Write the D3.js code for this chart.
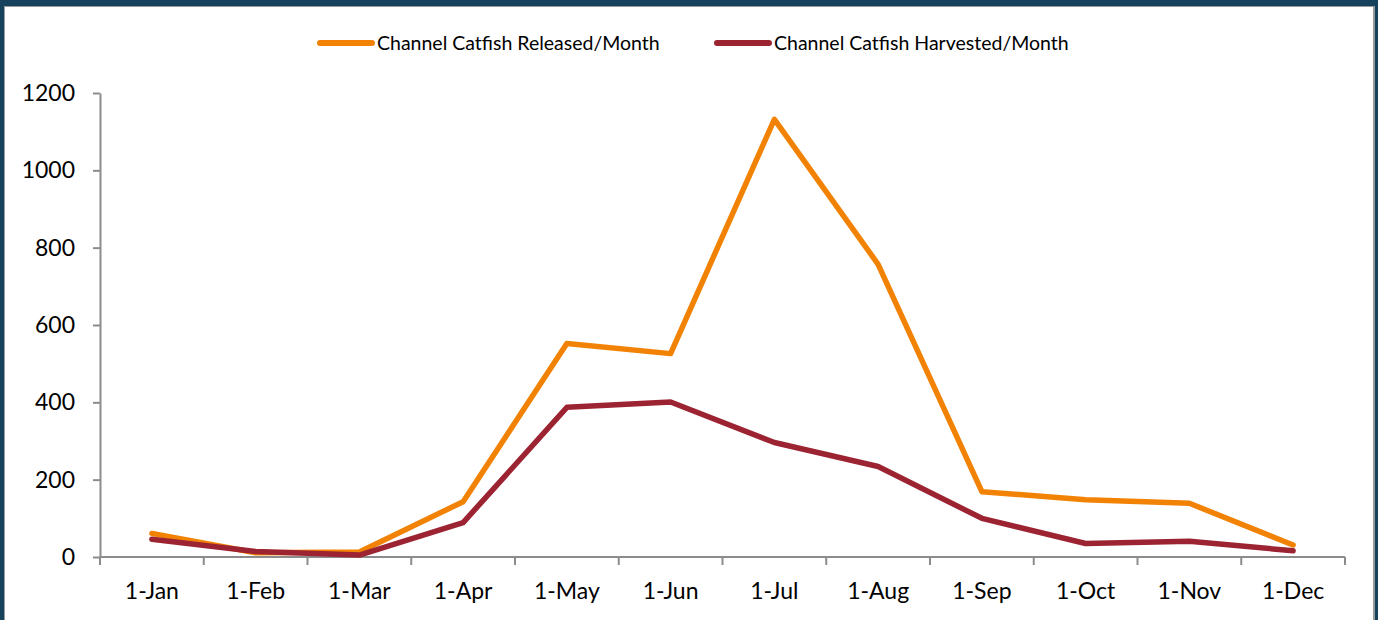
<!DOCTYPE html>
<html>
<head>
<meta charset="utf-8">
<script src="https://cdn.jsdelivr.net/npm/d3@7"></script>
<style>
  html, body { margin: 0; padding: 0; background: #17425e; }
  #chart { width: 1378px; height: 620px; }
  text { font-family: Lato, "Open Sans", sans-serif; fill: #000; }
</style>
</head>
<body>
<div id="chart"></div>
<script>
// chart data
var months = ["1-Jan", "1-Feb", "1-Mar", "1-Apr", "1-May", "1-Jun", "1-Jul", "1-Aug", "1-Sep", "1-Oct", "1-Nov", "1-Dec"];
var released = [61, 11, 13, 143, 552, 526, 1132, 757, 169, 148, 139, 31];
var harvested = [46, 14, 5, 89, 387, 401, 296, 234, 100, 35, 41, 16];
var yTicks = [0, 200, 400, 600, 800, 1000, 1200];
var seriesNames = ["Channel Catfish Released/Month", "Channel Catfish Harvested/Month"];
var seriesColors = ["#f28204", "#9c2432"];

var svgWidth = 1378;
var svgHeight = 620;

// plot area
var margin = { top: 93, right: 33, bottom: 63, left: 100 };
var width = svgWidth - margin.left - margin.right;
var height = svgHeight - margin.top - margin.bottom;

var svg = d3.select("#chart")
  .append("svg")
  .attr("width", svgWidth)
  .attr("height", svgHeight);

// frame
svg.append("rect")
  .attr("x", 0).attr("y", 0)
  .attr("width", svgWidth).attr("height", svgHeight)
  .attr("fill", "#17425e");
svg.append("rect")
  .attr("x", 4).attr("y", 6)
  .attr("width", 1371).attr("height", svgHeight)
  .attr("fill", "#9a9a9a");
svg.append("rect")
  .attr("x", 5).attr("y", 7)
  .attr("width", 1368).attr("height", svgHeight)
  .attr("fill", "#ffffff");

var chartGroup = svg.append("g")
  .attr("transform", `translate(${margin.left}, ${margin.top})`);

// scales
var xBand = d3.scaleBand()
  .domain(months)
  .range([0, width]);

var yLinearScale = d3.scaleLinear()
  .domain([0, 1200])
  .range([height, 0]);

// y axis
var leftAxis = d3.axisLeft(yLinearScale)
  .tickValues(yTicks)
  .tickFormat(d3.format("d"))
  .tickSize(7)
  .tickPadding(18)
  .tickSizeOuter(0);

var yAxisG = chartGroup.append("g").call(leftAxis);
yAxisG.select(".domain").attr("stroke", "#8c8c8c").attr("stroke-width", 2);
yAxisG.selectAll(".tick line").attr("stroke", "#8c8c8c").attr("stroke-width", 2);
yAxisG.selectAll(".tick text")
  .style("font-size", "23px")
  .style("font-family", "Lato, 'Open Sans', sans-serif")
  .attr("fill", "#000");

// x axis: ticks on band edges
var xAxisG = chartGroup.append("g")
  .attr("transform", `translate(0, ${height})`);
xAxisG.append("line")
  .attr("x1", 0).attr("x2", width)
  .attr("y1", 0).attr("y2", 0)
  .attr("stroke", "#8c8c8c").attr("stroke-width", 2);
var edges = months.map(d => xBand(d)).concat([width]);
xAxisG.selectAll("line.tick")
  .data(edges)
  .enter()
  .append("line")
  .attr("class", "tick")
  .attr("x1", d => d).attr("x2", d => d)
  .attr("y1", 0).attr("y2", 8)
  .attr("stroke", "#8c8c8c").attr("stroke-width", 2);
xAxisG.selectAll("text")
  .data(months)
  .enter()
  .append("text")
  .attr("x", d => xBand(d) + xBand.bandwidth() / 2)
  .attr("y", 42)
  .attr("text-anchor", "middle")
  .style("font-size", "23px")
  .text(d => d);

// lines
var line = d3.line()
  .x((d, i) => xBand(months[i]) + xBand.bandwidth() / 2)
  .y(d => yLinearScale(d))
  .curve(d3.curveLinear);

[released, harvested].forEach(function(series, i) {
  chartGroup.append("path")
    .datum(series)
    .attr("d", line)
    .attr("fill", "none")
    .attr("stroke", seriesColors[i])
    .attr("stroke-width", 5.5)
    .attr("stroke-linejoin", "round")
    .attr("stroke-linecap", "round");
});

// legend
var legendX = [320, 717];
var legend = svg.selectAll("g.legend")
  .data(seriesNames)
  .enter()
  .append("g")
  .attr("class", "legend")
  .attr("transform", (d, i) => `translate(${legendX[i]}, 43)`);

legend.append("line")
  .attr("x1", 0).attr("x2", 52)
  .attr("y1", 0).attr("y2", 0)
  .attr("stroke", (d, i) => seriesColors[i])
  .attr("stroke-width", 6)
  .attr("stroke-linecap", "round");

legend.append("text")
  .attr("x", 57)
  .attr("y", 7)
  .style("font-size", "19.5px")
  .text(d => d);
</script>
</body>
</html>
